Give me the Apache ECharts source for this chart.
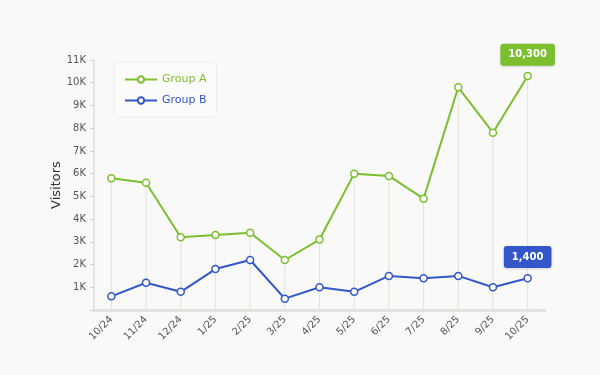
<!DOCTYPE html>
<html><head><meta charset="utf-8">
<script src="https://cdn.jsdelivr.net/npm/echarts@6/dist/echarts.min.js"></script>
<style>html,body{margin:0;padding:0;background:#f9f9f9}#c{width:600px;height:375px}</style>
</head><body><div id="c"></div>
<script>
const categories = ['10/24','11/24','12/24','1/25','2/25','3/25','4/25','5/25','6/25','7/25','8/25','9/25','10/25'];
const groupA = [5800,5600,3200,3300,3400,2200,3100,6000,5900,4900,9800,7800,10300];
const groupB = [600,1200,800,1800,2200,500,1000,800,1500,1400,1500,1000,1400];
const seriesNames = ['Group A', 'Group B'];
const greenC = '#7bbf2e';
const blueC = '#3356c8';
const font = 'DejaVu Sans';

function withEndLabel(arr, color) {
  return arr.map((v, i) => i === arr.length - 1 ? {
    value: v,
    label: {
      show: true, position: 'top', distance: 6,
      formatter: (p) => p.value.toLocaleString('en-US'),
      backgroundColor: color, color: '#fff', fontWeight: 'bold',
      fontFamily: font, fontSize: 10, padding: [6, 8, 6, 8], borderRadius: 3,
      shadowColor: 'rgba(0,0,0,0.15)', shadowBlur: 3, shadowOffsetY: 1
    }
  } : v);
}

const chart = echarts.init(document.getElementById('c'));
chart.setOption({
  backgroundColor: '#f9f9f9',
  animation: false,
  textStyle: { fontFamily: font },
  grid: { left: 94, right: 55, top: 60, bottom: 65 },
  legend: {
    left: 114, top: 62, orient: 'vertical', itemGap: 10,
    padding: [12, 10, 11, 10],
    backgroundColor: '#fbfbfb', borderColor: '#ececec', borderWidth: 1, borderRadius: 4,
    itemWidth: 32, itemHeight: 8,
    data: [
      { name: seriesNames[0], textStyle: { color: greenC } },
      { name: seriesNames[1], textStyle: { color: blueC } }
    ],
    textStyle: { fontSize: 11, fontFamily: font }
  },
  xAxis: {
    type: 'category', data: categories, boundaryGap: true,
    axisLine: { lineStyle: { color: '#e2e2e2', width: 3 } },
    axisTick: { show: false },
    axisLabel: { rotate: 45, fontSize: 10, color: '#555', margin: 8, fontFamily: font }
  },
  yAxis: {
    type: 'value', min: 0, max: 11000, interval: 1000,
    name: 'Visitors', nameLocation: 'middle', nameGap: 31, nameMoveOverlap: false,
    nameTextStyle: { fontSize: 13, color: '#333', fontFamily: font },
    axisLine: { show: true, lineStyle: { color: '#e6e6e6', width: 2 } },
    axisTick: { show: true, length: 4, lineStyle: { color: '#cfcfcf' } },
    splitLine: { show: false },
    axisLabel: { fontSize: 10, color: '#555', margin: 8, fontFamily: font,
      formatter: v => v === 0 ? '' : (v / 1000) + 'K' }
  },
  series: [
    { name: 'drop', type: 'bar', data: groupA, barWidth: 1, silent: true, z: 1,
      itemStyle: { color: '#dfe6d5' }, legendHoverLink: false },
    { name: seriesNames[0], type: 'line', data: withEndLabel(groupA, greenC), z: 3,
      symbol: 'circle', symbolSize: 7, color: greenC,
      lineStyle: { width: 2, color: greenC },
      itemStyle: { color: '#fff', borderColor: greenC, borderWidth: 1.5 } },
    { name: seriesNames[1], type: 'line', data: withEndLabel(groupB, blueC), z: 3,
      symbol: 'circle', symbolSize: 7, color: blueC,
      lineStyle: { width: 2, color: blueC },
      itemStyle: { color: '#fff', borderColor: blueC, borderWidth: 1.5 } }
  ]
});
</script></body></html>
